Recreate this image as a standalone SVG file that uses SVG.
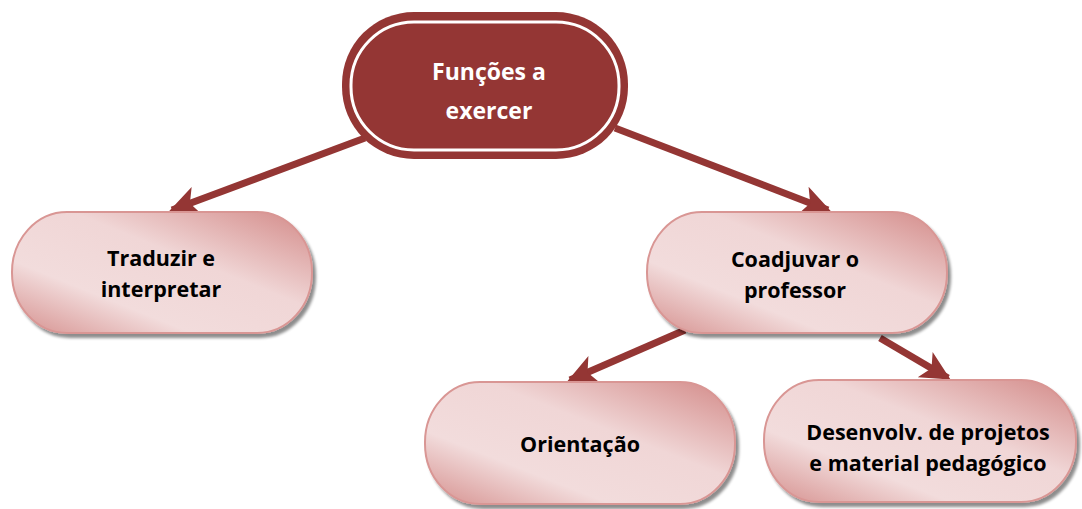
<svg xmlns="http://www.w3.org/2000/svg" width="1082" height="509" viewBox="0 0 1082 509">
<defs>
<linearGradient id="pink" x1="0" y1="1" x2="1" y2="0">
<stop offset="0" stop-color="#d58f8d"/>
<stop offset="0.3" stop-color="#f2dcdc"/>
<stop offset="0.6" stop-color="#f0d6d6"/>
<stop offset="1" stop-color="#d38a88"/>
</linearGradient>
<filter id="sh" x="-10%" y="-10%" width="130%" height="140%">
<feGaussianBlur in="SourceAlpha" stdDeviation="1.5"/>
<feOffset dx="3" dy="4" result="b"/>
<feComponentTransfer><feFuncA type="linear" slope="0.45"/></feComponentTransfer>
<feMerge><feMergeNode/><feMergeNode in="SourceGraphic"/></feMerge>
</filter>
<marker id="ah" viewBox="0 0 10 10" refX="9" refY="5" markerWidth="4.2" markerHeight="4.6" orient="auto" markerUnits="strokeWidth">
<path d="M0,0 L10,5 L0,10 L2.5,5 Z" fill="#943634"/>
</marker>
</defs>
<style>
.c{stroke:#943634;stroke-width:7;fill:none;marker-end:url(#ah)}
.n{fill:url(#pink);stroke:#d99694;stroke-width:2;filter:url(#sh)}
.t{font-family:"Open Sans",Lato,sans-serif;font-weight:bold;font-size:21.5px;fill:#000;text-anchor:middle}
.w{font-family:"Open Sans",Lato,sans-serif;font-weight:bold;font-size:23px;fill:#fff;text-anchor:middle}
</style>
<g id="connectors">
<line class="c" x1="365" y1="138" x2="172" y2="210"/>
<line class="c" x1="615" y1="128" x2="828" y2="210"/>
<line class="c" x1="685" y1="330" x2="570" y2="380"/>
<line class="c" x1="880" y1="338" x2="948" y2="378"/>
</g>
<g id="n-top">
<rect x="342" y="12" width="286" height="147" rx="72" ry="72" fill="#943634"/>
<rect x="351" y="22" width="268" height="128" rx="63" ry="63" fill="none" stroke="#fff" stroke-width="3"/>
<text class="w" x="489" y="80">Funções a</text>
<text class="w" x="489" y="119">exercer</text>
</g>
<g id="n-traduzir">
<rect class="n" x="12" y="212" width="300" height="121" rx="55" ry="60"/>
<text class="t" x="161" y="266">Traduzir e</text>
<text class="t" x="161" y="297">interpretar</text>
</g>
<g id="n-coadjuvar">
<rect class="n" x="647" y="212" width="300" height="121" rx="55" ry="60"/>
<text class="t" x="795" y="267">Coadjuvar o</text>
<text class="t" x="795" y="298">professor</text>
</g>
<g id="n-orientacao">
<rect class="n" x="425" y="382" width="310" height="122" rx="55" ry="60"/>
<text class="t" x="580" y="452">Orientação</text>
</g>
<g id="n-desenvolv">
<rect class="n" x="764" y="380" width="312" height="122" rx="55" ry="60"/>
<text class="t" x="928" y="440">Desenvolv. de projetos</text>
<text class="t" x="928" y="471">e material pedagógico</text>
</g>
</svg>
